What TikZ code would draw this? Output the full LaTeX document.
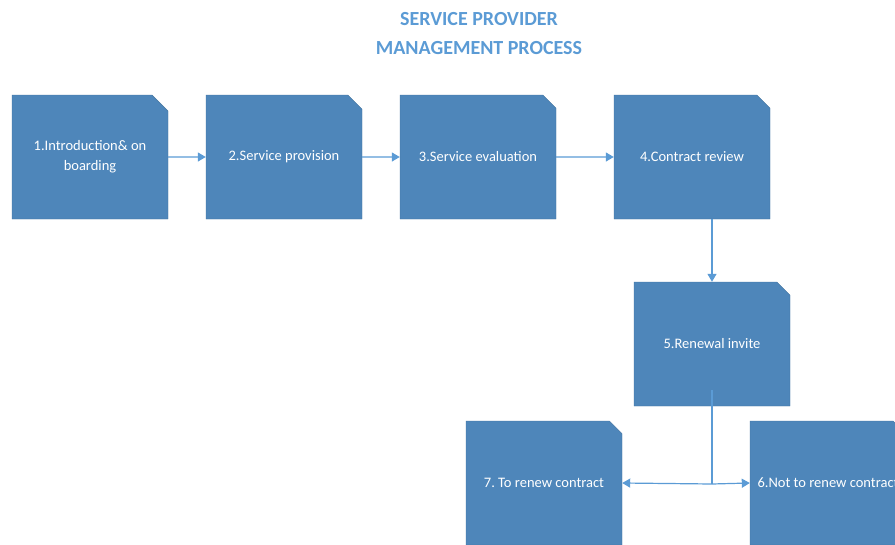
\documentclass[tikz,border=0pt]{standalone}
\usepackage{fontspec}
\setmainfont{Carlito}
\usetikzlibrary{shapes.misc,arrows.meta}
\definecolor{boxblue}{HTML}{4E86BA}
\definecolor{boxedge}{HTML}{41719C}
\definecolor{linkblue}{HTML}{5B9BD5}
\tikzset{
  stepbox/.style={chamfered rectangle, chamfered rectangle corners=north east,
    chamfered rectangle xsep=8pt, chamfered rectangle ysep=8pt,
    fill=boxblue, draw=boxedge, line width=0.4pt,
    minimum width=156pt, minimum height=124pt, inner sep=0pt,
    text=white, align=center, font=\fontsize{14.5}{20}\selectfont},
  link/.style={draw=linkblue, line width=1.2pt, -{Triangle[length=8pt,width=9pt]}},
  title/.style={text=linkblue, align=center, font=\bfseries\fontsize{20}{29}\selectfont}
}
\begin{document}
\frenchspacing
\begin{tikzpicture}[x=1pt,y=-1pt]
  \useasboundingbox (0,0) rectangle (895,544);
  \clip (0,0) rectangle (895,544);
  \node[title] (head) at (479,34) {SERVICE PROVIDER\\MANAGEMENT PROCESS};
  \node[stepbox] (s1) at (90,157) {1.Introduction\& on\\boarding};
  \node[stepbox] (s2) at (284,157) {2.Service provision};
  \node[stepbox] (s3) at (478,157) {3.Service evaluation};
  \node[stepbox] (s4) at (692,157) {4.Contract review};
  \node[stepbox] (s5) at (712,344) {5.Renewal invite};
  \node[stepbox] (s7) at (544,483) {7. To renew contract};
  \node[stepbox] (s6) at (828,483) {6.Not to renew contract};
  \coordinate (split) at (712,484);
  \draw[link] (s1) -- (s2);
  \draw[link] (s2) -- (s3);
  \draw[link] (s3) -- (s4);
  \draw[link] (s4.south -| s5.north) -- (s5.north);
  \draw[draw=linkblue, line width=1.2pt] (712,390) -- (split);
  \draw[link] (split) -- (s7.east);
  \draw[link] (split) -- (s6.west);
\end{tikzpicture}
\end{document}
